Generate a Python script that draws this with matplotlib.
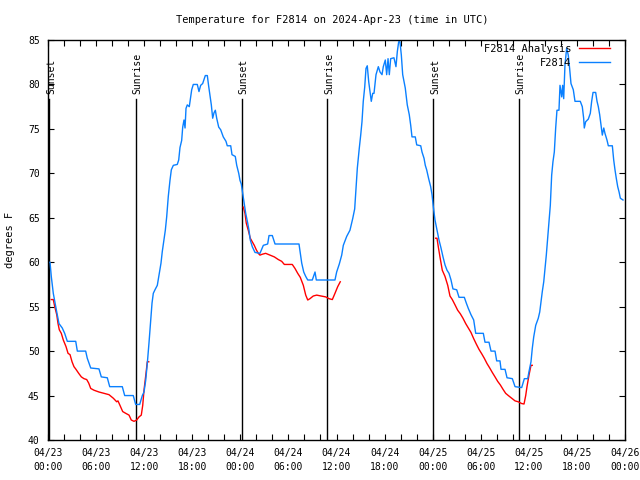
import numpy as np
import matplotlib
matplotlib.use('Agg')
import matplotlib.pyplot as plt

# time in hours after 04/23 00:00 UTC, temperature in degrees F
obs_hours = [0.00, 0.25, 0.41, 0.66, 0.84, 1.09, 1.37, 1.78, 2.08, 2.41, 3.46, 3.66, 4.70, 4.90, 5.33,
             6.36, 6.65, 7.40, 7.70, 9.27, 9.57, 10.64, 10.94, 11.44, 11.77, 11.98, 12.19, 12.39, 12.60,
             12.82, 12.98, 13.14, 13.35, 13.64, 13.89, 14.10, 14.26, 14.47, 14.64, 14.81, 15.01, 15.22,
             15.39, 15.64, 16.13, 16.31, 16.47, 16.68, 16.81, 16.97, 17.10, 17.22, 17.38, 17.63, 17.81,
             17.93, 18.13, 18.63, 18.84, 19.05, 19.30, 19.63, 19.88, 20.05, 20.21, 20.38, 20.55, 20.71,
             20.88, 21.05, 21.30, 21.55, 21.87, 22.21, 22.37, 22.80, 22.96, 23.37, 23.55, 23.80, 23.96,
             24.12, 24.49, 24.67, 24.92, 25.08, 25.24, 25.49, 25.83, 26.45, 26.87, 27.41, 27.58, 27.99,
             28.33, 31.32, 31.48, 31.66, 31.91, 32.16, 32.41, 32.98, 33.32, 33.48, 35.81, 36.02, 36.35,
             36.65, 36.85, 37.27, 37.68, 38.02, 38.27, 38.43, 38.60, 38.84, 39.02, 39.18, 39.34, 39.52,
             39.68, 39.84, 40.02, 40.18, 40.34, 40.52, 40.68, 40.93, 41.22, 41.43, 41.68, 41.84, 42.09,
             42.26, 42.43, 42.59, 42.76, 43.17, 43.42, 43.59, 43.76, 43.92, 44.09, 44.26, 44.58, 44.83,
             45.08, 45.26, 45.42, 45.83, 46.01, 46.51, 46.67, 46.92, 47.08, 47.25, 47.50, 47.75, 47.92,
             48.08, 48.29, 48.54, 48.79, 49.04, 49.29, 49.54, 49.79, 50.04, 50.29, 50.53, 51.00, 51.29,
             51.95, 52.20, 52.45, 52.78, 53.12, 53.37, 54.32, 54.53, 55.03, 55.28, 55.78, 55.99, 56.40,
             56.53, 57.03, 57.28, 57.94, 58.28, 59.11, 59.44, 59.86, 60.02, 60.27, 60.43, 60.61, 60.86,
             61.18, 61.36, 61.52, 61.68, 61.86, 62.02, 62.18, 62.35, 62.52, 62.68, 62.85, 63.01, 63.18,
             63.35, 63.51, 63.76, 63.89, 64.10, 64.22, 64.35, 64.51, 64.72, 64.92, 65.09, 65.26, 65.55,
             65.76, 66.42, 66.67, 66.84, 66.92, 67.09, 67.42, 67.67, 67.84, 68.01, 68.34, 68.51, 68.67,
             68.84, 69.01, 69.17, 69.35, 69.50, 69.75, 69.92, 70.42, 70.59, 70.75, 70.92, 71.09, 71.26,
             71.42, 71.75]
obs_temps = [60.0, 60.0, 58.4, 56.5, 55.6, 54.4, 53.1, 52.6, 52.0, 51.1, 51.1, 50.0, 50.0, 49.2, 48.1,
             48.0, 47.1, 47.0, 46.0, 46.0, 45.0, 45.0, 44.0, 44.0, 45.0, 45.4, 46.7, 48.6, 50.9,
             53.5, 55.4, 56.5, 56.9, 57.4, 58.8, 59.9, 61.2, 62.5, 63.6, 65.1, 67.4, 69.2,
             70.4, 70.9, 71.0, 71.5, 72.9, 73.7, 75.2, 76.0, 75.1, 77.3, 77.7, 77.5, 78.6,
             79.4, 80.0, 80.0, 79.2, 79.9, 80.1, 81.0, 81.0, 79.8, 78.8, 77.7, 76.2, 76.8,
             77.1, 76.2, 75.2, 74.9, 74.1, 73.6, 73.1, 73.1, 72.1, 71.9, 70.9, 70.0, 69.2,
             68.8, 66.6, 65.5, 64.4, 63.6, 62.5, 61.75, 61.1, 61.0, 61.9, 62.05, 63.0, 63.0,
             62.05, 62.05, 61.0, 59.9, 58.9, 58.4, 58.0, 58.0, 58.9, 58.0, 58.0, 58.9, 59.8,
             60.8, 61.9, 62.9, 63.6, 64.9, 66.0, 68.3, 70.6, 72.8, 74.3, 75.8, 78.1, 79.7,
             81.8, 82.1, 80.3, 79.2, 78.1, 79.0, 79.0, 81.1, 82.0, 81.4, 81.1, 82.0, 82.75,
             81.1, 82.9, 81.1, 82.9, 83.0, 82.0, 83.7, 84.8, 84.8, 83.3, 81.1, 79.6, 77.7,
             76.6, 75.4, 74.1, 74.1, 73.2, 73.1, 72.4, 71.7, 70.9, 70.4, 69.4, 68.5, 67.6,
             66.25, 64.75, 63.6, 62.5, 61.6, 60.6, 59.7, 59.1, 58.75, 58.0, 57.0, 56.9, 56.05,
             56.05, 55.4, 54.8, 54.1, 53.5, 52.0, 52.0, 51.0, 51.0, 50.0, 50.0, 48.9, 48.9,
             47.95, 47.95, 47.0, 46.9, 46.0, 45.9, 46.9, 46.9, 47.7, 48.8, 50.3, 51.6, 52.9,
             53.7, 54.4, 55.6, 56.7, 57.8, 59.3, 60.8, 62.7, 64.6, 66.4, 69.8, 71.3, 72.4,
             75.1, 77.1, 77.1, 79.9, 78.6, 79.9, 78.4, 82.2, 84.1, 83.3, 81.8, 80.1, 79.4,
             78.1, 78.1, 77.5, 76.2, 75.1, 75.8, 76.1, 76.75, 78.1, 79.1, 79.1, 78.1, 77.5,
             76.6, 75.4, 74.3, 75.1, 74.5, 73.75, 73.1, 73.1, 71.5, 70.4, 69.4, 68.5, 67.9,
             67.2, 67.0]

# analysis runs (three separate nights)
ana1_hours = [0.41, 0.66, 0.84, 1.09, 1.25, 1.41, 1.66, 1.91, 2.25, 2.50, 2.75, 3.00, 3.24, 3.49, 3.83,
              4.16, 4.49, 4.83, 5.08, 5.33, 5.74, 6.36, 6.99, 7.61, 8.15, 8.57, 8.73, 8.98, 9.32, 9.70,
              10.11, 10.39, 10.73, 11.07, 11.36, 11.64, 11.82, 11.98, 12.23, 12.39, 12.57]
ana1_temps = [55.8, 55.8, 55.0, 54.1, 53.1, 52.4, 52.0, 51.25, 50.5, 49.75, 49.6, 48.8, 48.25, 47.95, 47.5,
              47.1, 46.9, 46.8, 46.4, 45.8, 45.6, 45.4, 45.25, 45.1, 44.7, 44.3, 44.4, 43.9, 43.2, 43.0,
              42.8, 42.25, 42.1, 42.25, 42.6, 42.8, 43.9, 45.6, 47.5, 48.8, 48.8]
ana2_hours = [24.37, 24.58, 24.74, 24.99, 25.24, 25.49, 25.74, 25.99, 26.24, 26.45, 26.74, 27.16, 27.70,
              28.24, 28.74, 29.16, 29.49, 30.48, 30.82, 31.16, 31.48, 31.86, 32.16, 32.41, 32.69, 33.10,
              33.53, 34.07, 34.65, 35.06, 35.48, 35.81, 36.15, 36.47]
ana2_temps = [66.2, 65.5, 64.4, 63.6, 62.7, 62.3, 61.9, 61.4, 61.0, 60.8, 60.9, 61.0, 60.8,
              60.6, 60.3, 60.1, 59.75, 59.75, 59.3, 58.75, 58.3, 57.4, 56.3, 55.75, 55.9, 56.2,
              56.3, 56.2, 56.1, 55.9, 55.8, 56.5, 57.25, 57.8]
ana3_hours = [48.38, 48.54, 48.70, 48.91, 49.20, 49.54, 49.88, 50.16, 50.45, 50.79, 51.12, 51.45, 51.78,
              52.12, 52.45, 52.78, 53.12, 53.44, 53.78, 54.12, 54.44, 54.78, 55.12, 55.44, 55.78, 56.11,
              56.44, 56.78, 57.11, 57.44, 57.86, 58.28, 58.68, 59.11, 59.40, 59.61, 59.77, 60.02, 60.27,
              60.43]
ana3_temps = [62.7, 62.7, 61.75, 60.6, 59.1, 58.4, 57.4, 56.2, 55.8, 55.2, 54.6, 54.2, 53.7,
              53.1, 52.6, 52.1, 51.4, 50.8, 50.2, 49.7, 49.2, 48.6, 48.1, 47.6, 47.1, 46.6,
              46.2, 45.7, 45.25, 45.0, 44.7, 44.4, 44.3, 44.1, 44.05, 45.0, 46.0, 47.3, 48.4,
              48.4]

sun_hours = [0.17, 10.93, 24.19, 34.87, 48.1, 58.75]
sun_labels = ['Sunset', 'Sunrise', 'Sunset', 'Sunrise', 'Sunset', 'Sunrise']

tick_hours = [0, 6, 12, 18, 24, 30, 36, 42, 48, 54, 60, 66, 72]
tick_labels = ['04/23\n00:00', '04/23\n06:00', '04/23\n12:00', '04/23\n18:00',
               '04/24\n00:00', '04/24\n06:00', '04/24\n12:00', '04/24\n18:00',
               '04/25\n00:00', '04/25\n06:00', '04/25\n12:00', '04/25\n18:00',
               '04/26\n00:00']

plt.rcParams['font.family'] = 'DejaVu Sans Mono'
plt.rcParams['font.size'] = 7

fig = plt.figure(figsize=(6.4, 4.8), dpi=100)
ax = fig.add_axes([48 / 640, 40 / 480, 577 / 640, 400 / 480])

blue = '#0a80ff'
red = '#ff0000'

# sunrise / sunset markers
for h, lab in zip(sun_hours, sun_labels):
    ax.plot([h, h], [40, 78.4], color='black', lw=1.0)
    ax.text(h + 0.2, 78.9, lab, rotation=90, ha='center', va='bottom', fontsize=7)

ax.plot(ana1_hours, ana1_temps, color=red, lw=1.0, label='F2814 Analysis')
ax.plot(ana2_hours, ana2_temps, color=red, lw=1.0)
ax.plot(ana3_hours, ana3_temps, color=red, lw=1.0)
ax.plot(obs_hours, obs_temps, color=blue, lw=1.0, label='F2814')

ax.set_xlim(0, 72)
ax.set_ylim(40, 85)
ax.set_xticks(tick_hours)
ax.set_xticklabels(tick_labels)
ax.set_xticks(np.arange(0, 73, 2), minor=True)
ax.set_yticks(np.arange(40, 86, 5))
ax.tick_params(axis='both', which='both', direction='in', top=True, right=True,
               length=4, width=0.8)
ax.tick_params(axis='x', which='major', pad=6)
ax.tick_params(axis='y', which='major', pad=6)
for t in ax.get_xticklabels():
    t.set_linespacing(1.45)
for s in ax.spines.values():
    s.set_linewidth(1.0)

leg = ax.legend(loc='upper right', bbox_to_anchor=((610 - 48) / 577, (440 - 44) / 400),
                frameon=False, markerfirst=False, handlelength=3.0, handletextpad=0.7,
                labelspacing=0.35, borderpad=0, borderaxespad=0, fontsize=7.5)

fig.text(332 / 640, 1 - 20 / 480, 'Temperature for F2814 on 2024-Apr-23 (time in UTC)',
         ha='center', va='center', fontsize=7.5)
fig.text(10 / 640, 0.5, 'degrees F', rotation=90, ha='center', va='center', fontsize=7.5)

fig.savefig('out.png', dpi=100)
